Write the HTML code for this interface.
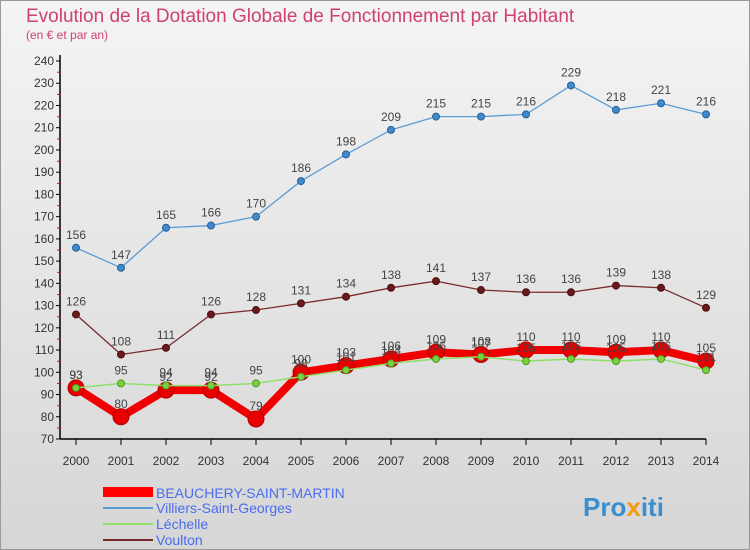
<!DOCTYPE html>
<html><head><meta charset="utf-8"><style>
body{margin:0;}
#c{width:750px;height:550px;position:relative;overflow:hidden;font-family:"Liberation Sans",sans-serif;}
</style></head><body>
<div id="c">
<svg id="svg" width="750" height="550" xmlns="http://www.w3.org/2000/svg">
<defs><linearGradient id="bg" x1="0" y1="0" x2="0" y2="1"><stop offset="0" stop-color="#f4f4f4"/><stop offset="1" stop-color="#d6d6d6"/></linearGradient></defs>
<rect x="0.5" y="0.5" width="749" height="549" fill="url(#bg)" stroke="#999"/>
<text x="26" y="22" font-size="19" fill="#d04070">Evolution de la Dotation Globale de Fonctionnement par Habitant</text>
<text x="26" y="39" font-size="12" fill="#d04070">(en € et par an)</text>
<g id="axes"></g><g id="series"></g>
<g>
<rect x="103" y="487" width="50" height="10" fill="#ff0000"/>
<text x="156" y="498" font-size="14" fill="#4a6cf0">BEAUCHERY-SAINT-MARTIN</text>
<line x1="103" y1="508" x2="153" y2="508" stroke="#5b9bd5" stroke-width="2"/>
<text x="156" y="513" font-size="14" fill="#4a6cf0">Villiers-Saint-Georges</text>
<line x1="103" y1="524" x2="153" y2="524" stroke="#8ee06a" stroke-width="2"/>
<text x="156" y="529" font-size="14" fill="#4a6cf0">Léchelle</text>
<line x1="103" y1="540" x2="153" y2="540" stroke="#7a2a2a" stroke-width="2"/>
<text x="156" y="545" font-size="14" fill="#4a6cf0">Voulton</text>
</g>
<text x="583" y="516" font-size="26" font-weight="bold" fill="#3a8fd0">Pro<tspan fill="#f39c12">x</tspan>iti</text>
</svg></div>
<script>
const years=[2000,2001,2002,2003,2004,2005,2006,2007,2008,2009,2010,2011,2012,2013,2014];
const beauchery=[93,80,92,92,79,100,103,106,109,108,110,110,109,110,105];
const villiers=[156,147,165,166,170,186,198,209,215,215,216,229,218,221,216];
const lechelle=[93,95,94,94,95,98,101,104,106,107,105,106,105,106,101];
const voulton=[126,108,111,126,128,131,134,138,141,137,136,136,139,138,129];
const yTicks=[70,80,90,100,110,120,130,140,150,160,170,180,190,200,210,220,230,240];
const NS="http://www.w3.org/2000/svg";
const xs=i=>76+i*45, ys=v=>439-(v-70)*(378/170);
function mk(p,t,a){const e=document.createElementNS(NS,t);for(const k in a)e.setAttribute(k,a[k]);p.appendChild(e);return e;}
const ax=document.getElementById('axes'),sr=document.getElementById('series');
let l=mk(ax,'line',{x1:60,y1:55,x2:60,y2:439,stroke:'#000','stroke-width':1.5});


l=mk(ax,'line',{x1:60,y1:439,x2:706,y2:439,stroke:'#000','stroke-width':1.5});


yTicks.forEach(v=>{const y=ys(v);
 mk(ax,'line',{x1:56,y1:y,x2:60,y2:y,stroke:'#000'});
 if(v<240)mk(ax,'line',{x1:57,y1:y-11,x2:60,y2:y-11,stroke:'#f00'});
 const t=mk(ax,'text',{x:54,y:y+4,'font-size':12,'text-anchor':'end',fill:'#333'});t.textContent=v;
 
 });
years.forEach((yr,i)=>{const x=xs(i);
 mk(ax,'line',{x1:x,y1:439,x2:x,y2:445,stroke:'#000'});
 const t=mk(ax,'text',{x:x,y:465,'font-size':12,'text-anchor':'middle',fill:'#333'});t.textContent=yr;
 
 });
function series(data,name,col,w,r,dot,dotStroke){
 const g=mk(sr,'g',{});
 
 
 mk(g,'polyline',{points:data.map((v,i)=>xs(i)+','+ys(v)).join(' '),fill:'none',stroke:col,'stroke-width':w,'stroke-linejoin':'round'});
 data.forEach((v,i)=>{const c=mk(g,'circle',{cx:xs(i),cy:ys(v),r:r,fill:dot,stroke:dotStroke,'stroke-width':1});
  
  
  const t=mk(g,'text',{x:xs(i),y:ys(v)-9,'font-size':12,'text-anchor':'middle',fill:'#444'});t.textContent=v;
  
  });
}
series(villiers,'villiers','#5b9bd5',1.3,3.5,'#3d8ad0','#2a5f90');
series(voulton,'voulton','#7a2a2a',1.3,3.5,'#6a1a1a','#4a1010');
series(beauchery,'beauchery','#f00000',8,8,'#e80000','#b00000');
series(lechelle,'lechelle','#8ee06a',1.5,3.5,'#7bd040','#4a9a20');
</script>
</body></html>
